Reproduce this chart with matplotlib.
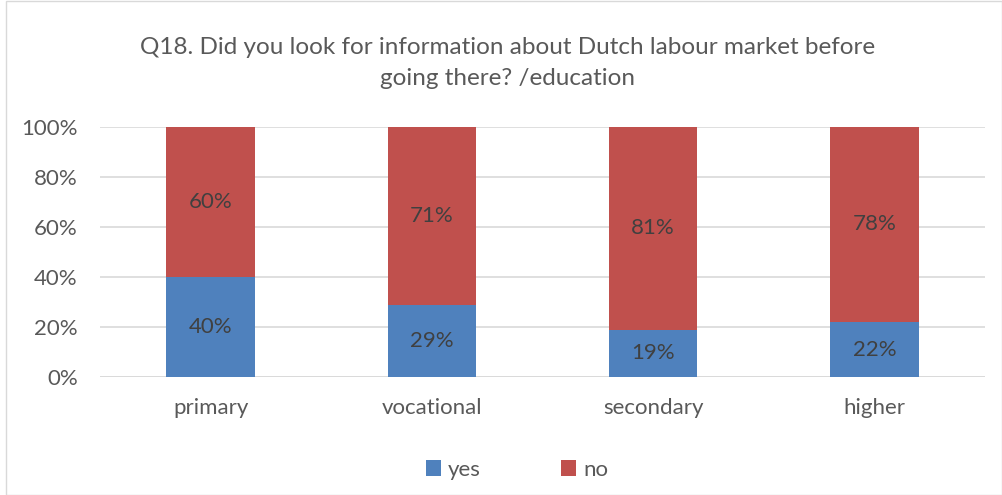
import matplotlib.pyplot as plt
from matplotlib.patches import Rectangle
import numpy as np

plt.rcParams['font.family'] = ['Lato', 'DejaVu Sans']

# data
categories = ["primary", "vocational", "secondary", "higher"]
yes_vals = [40, 29, 19, 22]
no_vals = [60, 71, 81, 78]
title = "Q18. Did you look for information about Dutch labour market before\ngoing there? /education"

BLUE = "#4F81BD"
RED = "#C0504D"
TXT = "#595959"

fig = plt.figure(figsize=(10.03, 4.95), dpi=100)
ax = fig.add_axes([100 / 1003, 1 - 377 / 495, 885 / 1003, 250 / 495])

x = np.arange(len(categories))
w = 0.4
b1 = ax.bar(x, yes_vals, w, color=BLUE, label="yes", zorder=3)
b2 = ax.bar(x, no_vals, w, bottom=yes_vals, color=RED, label="no", zorder=3)

for i in range(len(categories)):
    ax.text(x[i], yes_vals[i] / 2, f"{yes_vals[i]}%", ha="center", va="center",
            fontsize=16, color="#404040", zorder=4)
    ax.text(x[i], yes_vals[i] + no_vals[i] / 2, f"{no_vals[i]}%", ha="center",
            va="center", fontsize=16, color="#404040", zorder=4)

ax.set_xlim(-0.5, len(categories) - 0.5)
ax.set_ylim(0, 100)
ax.set_yticks(range(0, 101, 20))
ax.set_yticklabels([f"{v}%" for v in range(0, 101, 20)])
ax.set_xticks(x)
ax.set_xticklabels(categories)
ax.tick_params(axis="both", length=0, labelsize=16, colors=TXT)
ax.tick_params(axis="y", pad=16)
ax.tick_params(axis="x", pad=15)
ax.grid(axis="y", color="#D9D9D9", linewidth=1.2, zorder=0)
for s in ax.spines.values():
    s.set_visible(False)
ax.axhline(0, color="#D9D9D9", linewidth=1.2, zorder=1)

fig.text(0.506, 1 - 63 / 495, title, ha="center", va="center", fontsize=17.5,
         color=TXT, linespacing=1.55)

fig.legend(handles=[b1, b2], loc="center", bbox_to_anchor=(517 / 1003, 1 - 470 / 495),
           ncol=2, frameon=False, fontsize=16, labelcolor=TXT, handlelength=0.7,
           handleheight=0.7, columnspacing=3.6, handletextpad=0.3)

fig.patches.append(Rectangle((6 / 1003, 0), 1 - 7 / 1003, 1 - 1 / 495,
                             transform=fig.transFigure, fill=False,
                             edgecolor="#D9D9D9", linewidth=1))

fig.savefig("out.png", dpi=100, facecolor="white")
